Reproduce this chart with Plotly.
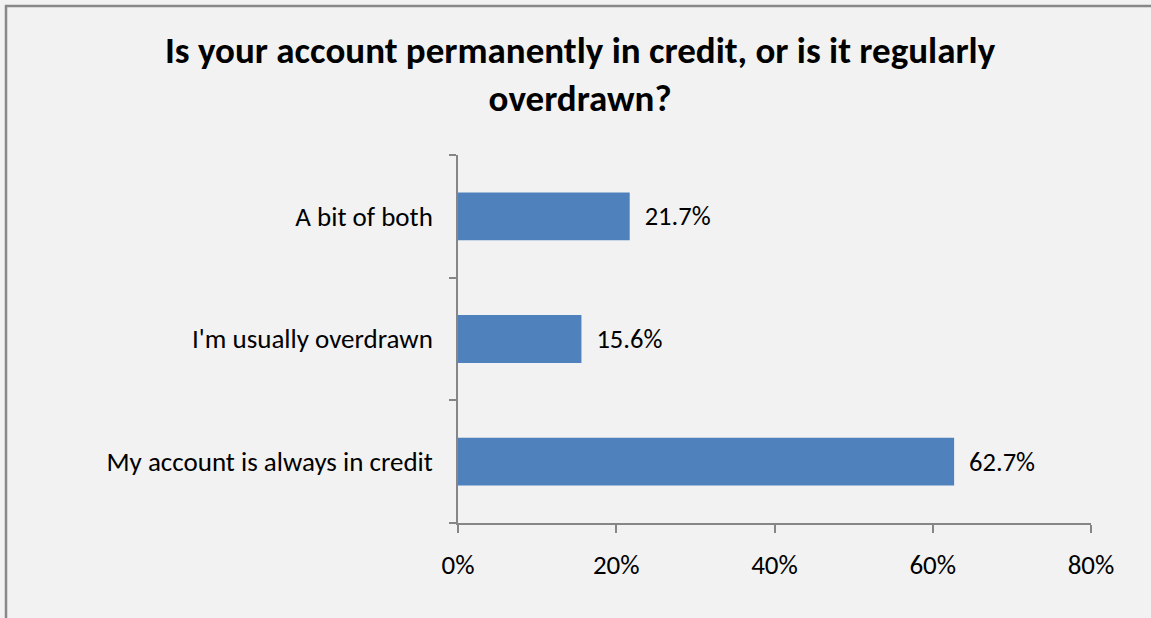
import plotly.graph_objects as go

categories = ["My account is always in credit", "I'm usually overdrawn", "A bit of both"]
shares = [0.627, 0.156, 0.217]
x_ticks = [0, 0.2, 0.4, 0.6, 0.8]
x_tick_labels = ["0%", "20%", "40%", "60%", "80%"]
title_text = "Is your account permanently in credit, or is it regularly<br>overdrawn?"

FONT = "Carlito, Lato, 'Open Sans', sans-serif"
W, H = 1151, 618
M = dict(l=458, r=60, t=155, b=95)

fig = go.Figure(
    go.Bar(
        x=shares,
        y=categories,
        orientation="h",
        marker=dict(color="#4f81bd", line=dict(width=0)),
        width=0.39,
        text=[f"{v * 100:.1f}%" for v in shares],
        texttemplate="  %{text}",
        textposition="outside",
        textfont=dict(family=FONT, size=26.5, color="#000000"),
        cliponaxis=False,
        hoverinfo="skip",
    )
)

# frame around the chart area (top and left edges visible)
pw = W - M["l"] - M["r"]
ph = H - M["t"] - M["b"]
def px_x(x):
    return (x - M["l"]) / pw
def px_y(y):
    return (H - M["b"] - y) / ph

fig.add_shape(type="line", xref="paper", yref="paper",
              x0=px_x(5), x1=px_x(1160), y0=px_y(6), y1=px_y(6),
              line=dict(color="#888888", width=2.5))
fig.add_shape(type="line", xref="paper", yref="paper",
              x0=px_x(6), x1=px_x(6), y0=px_y(5), y1=px_y(630),
              line=dict(color="#888888", width=2.5))

fig.update_layout(
    width=W,
    height=H,
    margin=M,
    paper_bgcolor="#f2f2f2",
    plot_bgcolor="#f2f2f2",
    showlegend=False,
    font=dict(family=FONT, color="#000000"),
    title=dict(
        text=f"<b>{title_text}</b>",
        x=0.504,
        xanchor="center",
        y=0.898,
        yanchor="middle",
        font=dict(family=FONT, size=37, color="#000000"),
    ),
    xaxis=dict(
        range=[0, 0.8],
        tickvals=x_ticks,
        ticktext=x_tick_labels,
        showgrid=False,
        zeroline=False,
        showline=True,
        linecolor="#868686",
        linewidth=1.5,
        ticks="outside",
        ticklen=8,
        tickcolor="#868686",
        tickwidth=1.5,
        ticklabelstandoff=9,
        tickfont=dict(family=FONT, size=27, color="#000000"),
        fixedrange=True,
    ),
    yaxis=dict(
        categoryorder="array",
        categoryarray=categories,
        tickson="boundaries",
        showgrid=False,
        zeroline=False,
        showline=True,
        linecolor="#868686",
        linewidth=1.5,
        ticks="outside",
        ticklen=7,
        tickcolor="#868686",
        tickwidth=1.5,
        ticklabelstandoff=18,
        tickfont=dict(family=FONT, size=27, color="#000000"),
        fixedrange=True,
    ),
)

fig.write_html("out.html")
